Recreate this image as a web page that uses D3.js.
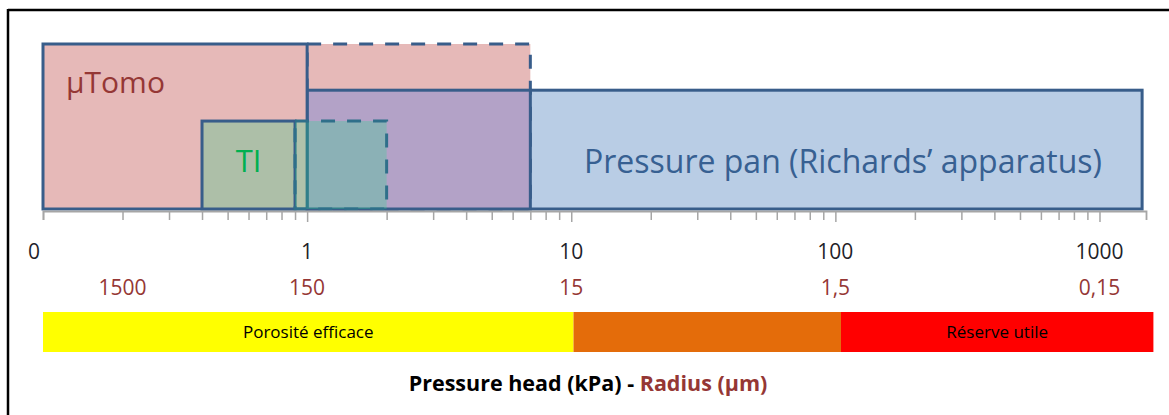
<!DOCTYPE html>
<html>
<head>
<meta charset="utf-8">
<script src="https://cdn.jsdelivr.net/npm/d3@7"></script>
<style>
  body { margin: 0; background: #fff; }
  svg { display: block; font-family: "Open Sans", sans-serif; }
</style>
</head>
<body>
<div id="chart"></div>
<script>
// technique boxes, pressure range in kPa, level = relative box height
var boxNames  = ["Pressure pan", "µTomo ext", "Pan 1-7", "µTomo", "TI", "TI ext"];
var boxFrom   = [1, 1, 1, 0.1, 0.4, 0.9];
var boxTo     = [1450, 7, 7, 1, 0.9, 2];
var boxLevel  = [0.72, 1, 0.72, 1, 0.533, 0.533];

// axis labels
var headTicks   = [0.1, 1, 10, 100, 1000];
var headLabels  = ["0", "1", "10", "100", "1000"];
var radiusTicks = [0.2, 1, 10, 100, 1000];
var radiusLabels = ["1500", "150", "15", "1,5", "0,15"];

// water classes bar
var zoneFrom  = [0.1, 10.2, 105];
var zoneTo    = [10.2, 105, 1600];
var zoneNames = ["Porosité efficace", "", "Réserve utile"];

var boxStyle = {
  "Pressure pan": {fill: "#b9cde5", dash: null},
  "µTomo ext":    {fill: "#e6b9b8", dash: "14,12"},
  "Pan 1-7":      {fill: "#b3a2c7", dash: null},
  "µTomo":        {fill: "#e6b9b8", dash: null},
  "TI":           {fill: "#adbfa8", dash: null},
  "TI ext":       {fill: "rgba(34,218,137,0.275)", dash: "14,12"}
};
var zoneColors = ["#ffff00", "#e46c0a", "#ff0000"];

var width = 1169, height = 415;
var svg = d3.select("#chart").append("svg")
   .attr("width", width).attr("height", height);

// frame (only top and left edges are visible)
svg.append("line").attr("x1", 8).attr("y1", 10).attr("x2", width).attr("y2", 10)
   .attr("stroke", "#000").attr("stroke-width", 2.5);
svg.append("line").attr("x1", 8).attr("y1", 9).attr("x2", 8).attr("y2", height)
   .attr("stroke", "#000").attr("stroke-width", 2.5);

var xScale = d3.scaleLog().domain([0.1, 1500]).range([43, 1146]);
var yScale = d3.scaleLinear().domain([0, 1]).range([209, 44]);

// boxes
var boxes = boxNames.map(function(n, i) {
   return {name: n, from: boxFrom[i], to: boxTo[i], level: boxLevel[i]};
});
svg.append("g").selectAll("rect").data(boxes).enter()
   .append("rect")
   .attr("x", function(d) { return xScale(d.from); })
   .attr("y", function(d) { return yScale(d.level); })
   .attr("width", function(d) { return xScale(d.to) - xScale(d.from); })
   .attr("height", function(d) { return yScale(0) - yScale(d.level); })
   .attr("fill", function(d) { return boxStyle[d.name].fill; })
   .attr("stroke", function(d) { return d.name == "TI ext" ? "#2f6f8a" : "#385d8a"; })
   .attr("stroke-width", 3)
   .attr("stroke-dasharray", function(d) { return boxStyle[d.name].dash; });

// box labels
svg.append("text").attr("x", 66).attr("y", 93)
   .attr("font-size", 30).attr("fill", "#953735").text("µTomo");
svg.append("text").attr("x", (xScale(0.4) + xScale(0.9)) / 2).attr("y", 172)
   .attr("text-anchor", "middle")
   .attr("font-size", 31).attr("fill", "#00b050").text("TI");
svg.append("text").attr("x", 843).attr("y", 173)
   .attr("text-anchor", "middle")
   .attr("font-size", 32).attr("fill", "#376092").text("Pressure pan (Richards’ apparatus)");

// axis
var xAxis = d3.axisBottom(xScale)
   .tickValues(xScale.ticks())
   .tickSize(9).tickSizeOuter(9)
   .tickFormat("");
var gAxis = svg.append("g").attr("transform", "translate(0,211)").call(xAxis);
gAxis.select(".domain").attr("stroke", "#a6a6a6").attr("stroke-width", 1.8);
gAxis.selectAll(".tick line").attr("stroke", "#a6a6a6").attr("stroke-width", 1.5)
   .filter(function(d) { return headTicks.indexOf(d) >= 0 && d > 0.1; })
   .attr("y2", 11);

svg.append("g").selectAll("text").data(headTicks).enter()
   .append("text")
   .attr("x", function(d, i) { return xScale(d) - (i == 0 ? 9 : 0); })
   .attr("y", 259)
   .attr("text-anchor", "middle")
   .attr("font-size", 21).attr("fill", "#1f1f2a")
   .text(function(d, i) { return headLabels[i]; });

svg.append("g").selectAll("text").data(radiusTicks).enter()
   .append("text")
   .attr("x", function(d) { return xScale(d); })
   .attr("y", 295)
   .attr("text-anchor", "middle")
   .attr("font-size", 21).attr("fill", "#953735")
   .text(function(d, i) { return radiusLabels[i]; });

// classes bar
var zones = zoneNames.map(function(n, i) {
   return {name: n, from: zoneFrom[i], to: zoneTo[i], color: zoneColors[i]};
});
var gZone = svg.append("g").selectAll("g").data(zones).enter().append("g");
gZone.append("rect")
   .attr("x", function(d) { return xScale(d.from); })
   .attr("y", 312)
   .attr("width", function(d) { return xScale(d.to) - xScale(d.from); })
   .attr("height", 40)
   .attr("fill", function(d) { return d.color; });
gZone.append("text")
   .attr("x", function(d) { return (xScale(d.from) + xScale(d.to)) / 2; })
   .attr("y", 338)
   .attr("text-anchor", "middle")
   .attr("font-size", 17).attr("fill", "#000")
   .text(function(d) { return d.name; });

// axis title
var title = svg.append("text").attr("x", 588).attr("y", 391)
   .attr("text-anchor", "middle")
   .attr("font-size", 21.5).attr("font-weight", "bold");
title.append("tspan").attr("fill", "#000").text("Pressure head (kPa) - ");
title.append("tspan").attr("fill", "#953735").text("Radius (µm)");
</script>
</body>
</html>
